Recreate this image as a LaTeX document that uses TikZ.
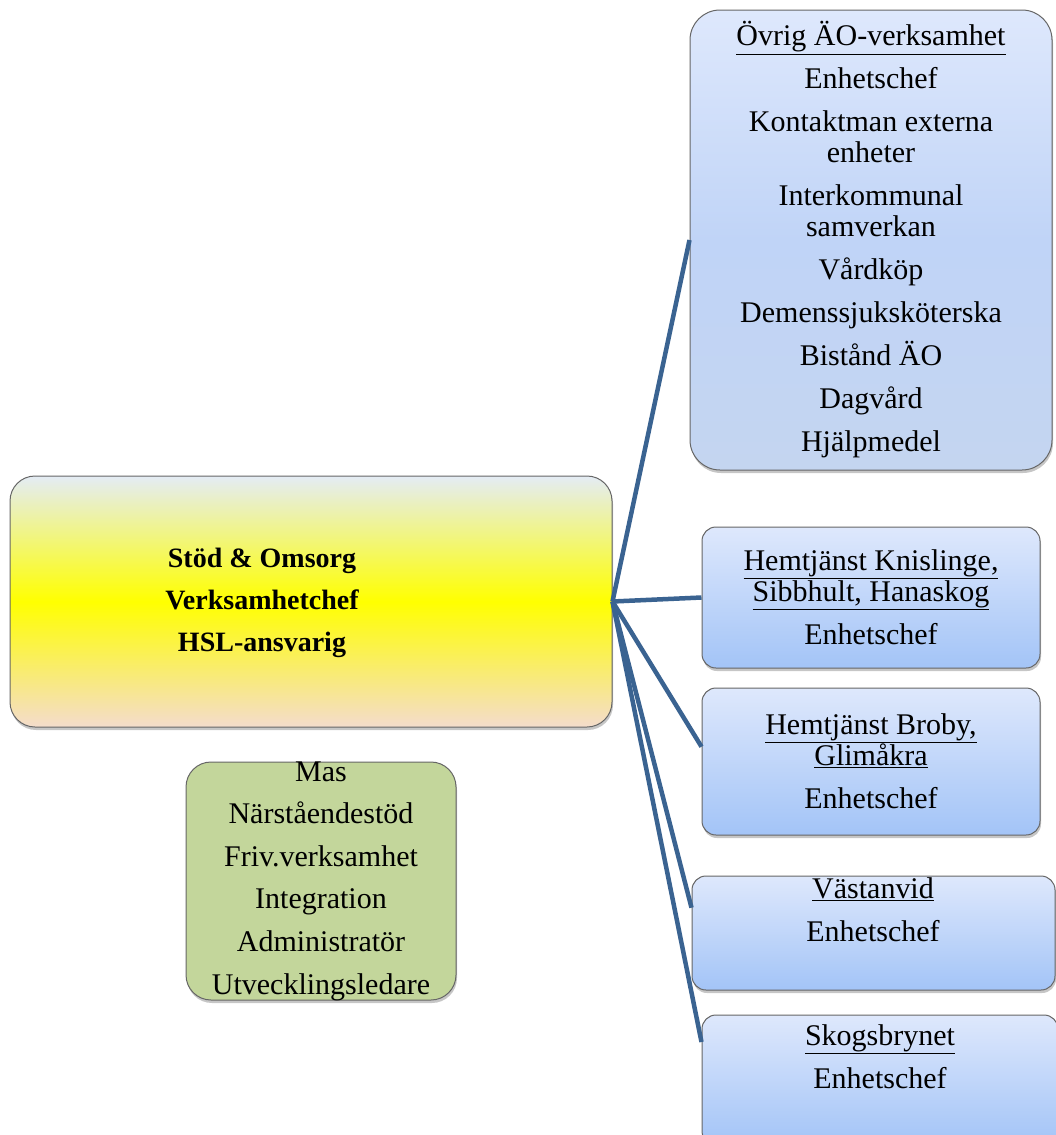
\documentclass[tikz,border=0pt]{standalone}
\usepackage{fontspec}
\setmainfont{Liberation Serif}
\usetikzlibrary{calc,shadows}

\definecolor{linkblue}{RGB}{58,99,145}
\definecolor{bluetop}{RGB}{222,232,252}
\definecolor{bluebot}{RGB}{163,196,247}
\definecolor{aomid}{RGB}{192,212,247}
\definecolor{aobot}{RGB}{196,213,240}
\definecolor{maintop}{RGB}{228,236,245}
\definecolor{mainbot}{RGB}{244,220,204}
\definecolor{grn}{RGB}{195,214,155}

\begin{document}
\begin{tikzpicture}[x=1pt,y=-1pt]
\tikzstyle{plain}=[draw=gray!80!black,line width=1pt,drop shadow={shadow xshift=1pt,shadow yshift=-3pt,opacity=0.45}]
\tikzstyle{bx}=[plain,top color=bluetop,bottom color=bluebot]
\tikzstyle{t}=[align=center,inner sep=0pt,font=\fontsize{30}{31}\selectfont]
\tikzstyle{ln}=[draw=linkblue,line width=4.5pt]
\useasboundingbox (0,0) rectangle (1055,1135);

% boxes
\node[plain,rounded corners=30pt,minimum width=362pt,minimum height=460pt,top color=bluetop,bottom color=aobot,middle color=aomid] (ao) at (871,240) {};
\node[plain,rounded corners=25pt,minimum width=602pt,minimum height=251pt,top color=maintop,bottom color=mainbot,middle color=yellow] (main) at (311,601.5) {};
\node[plain,rounded corners=25pt,minimum width=270pt,minimum height=238pt,fill=grn] (grp) at (321,881) {};
\node[bx,rounded corners=14pt,minimum width=338pt,minimum height=141pt] (kn) at (871,597.5) {};
\node[bx,rounded corners=14pt,minimum width=338pt,minimum height=147pt] (br) at (871,761.5) {};
\node[bx,rounded corners=14pt,minimum width=363pt,minimum height=114pt] (va) at (873.5,933) {};
\node[bx,rounded corners=14pt,minimum width=356pt,minimum height=130pt] (sk) at (880,1080) {};

% texts
\node[t] (aotx) at (ao.center) {\underline{Övrig ÄO-verksamhet}\\[12pt] Enhetschef\\[12pt] Kontaktman externa\\ enheter\\[12pt] Interkommunal\\ samverkan\\[12pt] Vårdköp\\[12pt] Demenssjuksköterska\\[12pt] Bistånd ÄO\\[12pt] Dagvård\\[12pt] Hjälpmedel};
\node[t,font=\fontsize{28}{42}\selectfont\bfseries] (maintx) at (262,603) {Stöd \& Omsorg\\ Verksamhetchef\\ HSL-ansvarig};
\node[t,font=\fontsize{30}{42.6}\selectfont] (grptx) at (grp.center) {Mas\\ Närståendestöd\\ Friv.verksamhet\\ Integration\\ Administratör\\ Utvecklingsledare};
\node[t] (kntx) at (kn.center) {\underline{Hemtjänst Knislinge,}\\ \underline{Sibbhult, Hanaskog}\\[12pt] Enhetschef};
\node[t] (brtx) at (br.center) {\underline{Hemtjänst Broby,}\\ \underline{Glimåkra}\\[12pt] Enhetschef};
\node[t] (vatx) at (873,910) {\underline{Västanvid}\\[12pt] Enhetschef};
\node[t] (sktx) at (880,1056.5) {\underline{Skogsbrynet}\\[12pt] Enhetschef};

% connectors
\draw[ln] (main.east) -- (ao.west);
\draw[ln] (main.east) -- (kn.west);
\draw[ln] (main.east) -- ($(br.north west)!0.4!(br.south west)$);
\draw[ln] (main.east) -- ($(va.north west)!0.28!(va.south west)$);
\draw[ln] (main.east) -- ($(sk.north west)!0.21!(sk.south west)$);
\end{tikzpicture}
\end{document}
